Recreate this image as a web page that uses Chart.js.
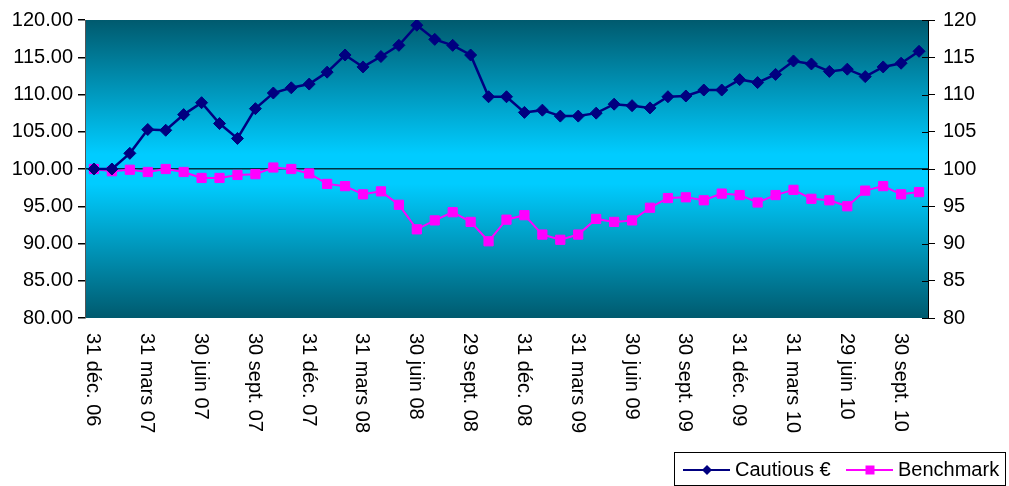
<!DOCTYPE html>
<html>
<head>
<meta charset="utf-8">
<script src="https://cdn.jsdelivr.net/npm/chart.js@4/dist/chart.umd.min.js"></script>
<style>
  html, body { margin: 0; padding: 0; background: #fff; }
  #wrap { width: 1009px; height: 486px; position: relative; }
</style>
</head>
<body>
<div id="wrap"><canvas id="perf-chart"></canvas></div>
<script>
const months = ["31 déc. 06",
  "31 janv. 07", "28 févr. 07", "31 mars 07", "30 avr. 07", "31 mai 07", "30 juin 07",
  "31 juil. 07", "31 août 07", "30 sept. 07", "31 oct. 07", "30 nov. 07", "31 déc. 07",
  "31 janv. 08", "29 févr. 08", "31 mars 08", "30 avr. 08", "30 mai 08", "30 juin 08",
  "31 juil. 08", "29 août 08", "29 sept. 08", "31 oct. 08", "28 nov. 08", "31 déc. 08",
  "30 janv. 09", "27 févr. 09", "31 mars 09", "30 avr. 09", "29 mai 09", "30 juin 09",
  "31 juil. 09", "31 août 09", "30 sept. 09", "30 oct. 09", "30 nov. 09", "31 déc. 09",
  "29 janv. 10", "26 févr. 10", "31 mars 10", "30 avr. 10", "31 mai 10", "29 juin 10",
  "30 juil. 10", "31 août 10", "30 sept. 10", "29 oct. 10"];

const cautious = [100.0, 100.0, 102.1, 105.3, 105.2, 107.3, 108.9, 106.1, 104.1, 108.1,
  110.2, 110.9, 111.4, 113.0, 115.3, 113.7, 115.1, 116.6, 119.3, 117.4,
  116.6, 115.3, 109.7, 109.7, 107.6, 107.9, 107.1, 107.1, 107.5, 108.7,
  108.5, 108.2, 109.7, 109.8, 110.6, 110.6, 112.0, 111.6, 112.7, 114.5,
  114.1, 113.1, 113.4, 112.4, 113.7, 114.2, 115.8];

const benchmark = [100.0, 99.7, 99.9, 99.6, 100.0, 99.6, 98.8, 98.8, 99.2, 99.3,
  100.2, 100.0, 99.4, 98.0, 97.7, 96.6, 97.0, 95.2, 91.9, 93.1,
  94.2, 92.9, 90.3, 93.2, 93.8, 91.2, 90.5, 91.2, 93.3, 92.9,
  93.1, 94.8, 96.1, 96.2, 95.8, 96.7, 96.5, 95.5, 96.5, 97.2,
  96.0, 95.8, 95.0, 97.1, 97.7, 96.6, 96.9];

const seriesNames = ["Cautious €", "Benchmark"];
const seriesColors = ["#000080", "#FF00FF"];
const FONT = "Liberation Sans, Arial, sans-serif";

// plot background: dark teal -> cyan -> dark teal
const bgPlugin = {
  id: 'bg',
  beforeDraw(chart) {
    const {ctx, chartArea: a} = chart;
    const g = ctx.createLinearGradient(0, a.top, 0, a.bottom);
    g.addColorStop(0, '#005a6e');
    g.addColorStop(0.45, '#00ccff');
    g.addColorStop(0.55, '#00ccff');
    g.addColorStop(1, '#005a6e');
    ctx.save();
    ctx.fillStyle = g;
    ctx.fillRect(a.left, a.top, a.right - a.left, a.bottom - a.top);
    ctx.restore();
  }
};

// x labels rotated clockwise (read top to bottom) + boxed legend
const extrasPlugin = {
  id: 'extras',
  afterDraw(chart) {
    const ctx = chart.ctx;
    const x = chart.scales.x;
    const a = chart.chartArea;
    ctx.save();
    ctx.fillStyle = '#000';
    ctx.font = '20px ' + FONT;
    ctx.textAlign = 'left';
    ctx.textBaseline = 'middle';
    months.forEach((m, i) => {
      if (i % 3 !== 0) return;
      const px = x.getPixelForValue(i) - 1;
      ctx.save();
      ctx.translate(px, a.bottom + 15);
      ctx.rotate(Math.PI / 2);
      ctx.fillText(m, 0, 0);
      ctx.restore();
    });

    // ticks on the right axis cross the axis line
    const r = chart.scales.y2;
    ctx.strokeStyle = '#000';
    ctx.lineWidth = 1;
    r.ticks.forEach(t => {
      const py = Math.round(r.getPixelForValue(t.value)) + 0.5;
      ctx.beginPath();
      ctx.moveTo(a.right - 6, py);
      ctx.lineTo(a.right, py);
      ctx.stroke();
    });

    // legend
    const lx = 674, ly = 452, lw = 331, lh = 33;
    ctx.fillStyle = '#fff';
    ctx.fillRect(lx, ly, lw, lh);
    ctx.strokeStyle = '#000';
    ctx.lineWidth = 1;
    ctx.strokeRect(lx + 0.5, ly + 0.5, lw, lh);
    const cy = ly + 18;
    const items = [[683, 'diamond'], [846, 'square']];
    items.forEach(([sx, shape], k) => {
      ctx.strokeStyle = seriesColors[k];
      ctx.fillStyle = seriesColors[k];
      ctx.lineWidth = 2;
      ctx.beginPath();
      ctx.moveTo(sx, cy);
      ctx.lineTo(sx + 47, cy);
      ctx.stroke();
      const mx = sx + 24;
      ctx.beginPath();
      if (shape === 'diamond') {
        ctx.moveTo(mx, cy - 5); ctx.lineTo(mx + 5, cy);
        ctx.lineTo(mx, cy + 5); ctx.lineTo(mx - 5, cy);
        ctx.closePath();
      } else {
        ctx.rect(mx - 4.5, cy - 4.5, 9, 9);
      }
      ctx.fill();
      ctx.fillStyle = '#000';
      ctx.font = '20px ' + FONT;
      ctx.textAlign = 'left';
      ctx.textBaseline = 'middle';
      ctx.fillText(seriesNames[k], sx + 52, cy);
    });
    ctx.restore();
  }
};

const config = {
  type: 'line',
  data: {
    labels: months,
    datasets: [{
      label: seriesNames[0],
      data: cautious,
      borderColor: seriesColors[0],
      backgroundColor: seriesColors[0],
      borderWidth: 2.5,
      pointStyle: 'rectRot',
      pointRadius: 6,
      pointBorderWidth: 1,
      yAxisID: 'y',
      tension: 0
    }, {
      label: seriesNames[1],
      data: benchmark,
      borderColor: seriesColors[1],
      backgroundColor: seriesColors[1],
      borderWidth: 2,
      pointStyle: 'rect',
      pointRadius: 6.5,
      pointBorderWidth: 1,
      yAxisID: 'y',
      tension: 0
    }]
  },
  options: {
    responsive: true,
    maintainAspectRatio: false,
    animation: false,
    layout: { padding: { top: 20, left: 0, right: 0, bottom: 0 } },
    plugins: {
      legend: { display: false },
      tooltip: { enabled: false }
    },
    scales: {
      x: {
        offset: true,
        grid: { display: false },
        border: { display: false },
        ticks: { display: false },
        afterFit(s) { s.height = 168; }
      },
      y: {
        position: 'left',
        min: 80, max: 120,
        ticks: {
          stepSize: 5,
          color: '#000',
          font: { family: FONT, size: 20 },
          padding: 5,
          callback: v => v.toFixed(2)
        },
        grid: {
          drawOnChartArea: true,
          color: c => c.tick && c.tick.value === 100 ? '#003344' : 'rgba(0,0,0,0)',
          lineWidth: 1.5,
          tickLength: 7,
          tickColor: '#000'
        },
        border: { display: true, color: '#555', width: 1 },
        afterFit(s) { s.width = 85; }
      },
      y2: {
        position: 'right',
        min: 80, max: 120,
        ticks: {
          stepSize: 5,
          color: '#000',
          font: { family: FONT, size: 20 },
          padding: 8
        },
        grid: {
          drawOnChartArea: false,
          tickLength: 7,
          tickColor: '#000'
        },
        border: { display: true, color: '#000', width: 1 },
        afterFit(s) { s.width = 81; }
      }
    }
  },
  plugins: [bgPlugin, extrasPlugin]
};

document.addEventListener("DOMContentLoaded", e => {
  new Chart(document.getElementById('perf-chart'), config);
});
</script>
</body>
</html>
